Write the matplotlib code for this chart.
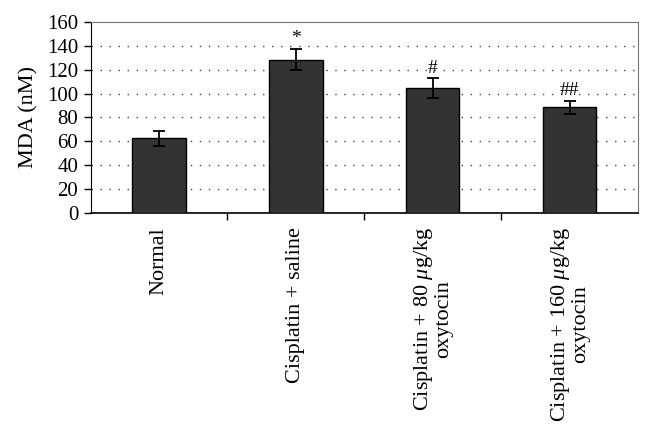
import matplotlib
matplotlib.use("Agg")
import matplotlib.pyplot as plt
import numpy as np

categories = ["Normal", "Cisplatin + saline",
              "Cisplatin + 80 $\\mu$g/kg\noxytocin",
              "Cisplatin + 160 $\\mu$g/kg\noxytocin"]
values = [62.5, 128.5, 104.5, 88.5]
errors = [6.5, 9.0, 8.5, 5.5]
marks = ["", "*", "#", "##"]
yticks = [0, 20, 40, 60, 80, 100, 120, 140, 160]

plt.rcParams['font.family'] = ['Liberation Serif', 'DejaVu Serif']
plt.rcParams['mathtext.fontset'] = 'custom'
plt.rcParams['mathtext.it'] = 'Liberation Serif:italic'
plt.rcParams['mathtext.rm'] = 'Liberation Serif'

fig = plt.figure(figsize=(6.52, 4.29), dpi=100)
ax = fig.add_axes([0.139, 0.5035, 0.8395, 0.4455])

x = np.arange(len(categories))
ax.bar(x, values, width=0.39, color='#333333', edgecolor='black', linewidth=1.0, zorder=3)
ax.errorbar(x, values, yerr=errors, fmt='none', ecolor='black', elinewidth=1.3,
            capsize=4, capthick=1.3, zorder=4)
for xi, v, e, m in zip(x, values, errors, marks):
    if m:
        ax.annotate(m, xy=(xi, v + e), xytext=(0, 1), textcoords='offset points',
                    ha='center', va='bottom', fontsize=14)

ax.set_xlim(-0.5, len(categories) - 0.5)
ax.set_ylim(0, 160)
ax.set_yticks(yticks)
ax.set_yticklabels([str(t) for t in yticks], fontsize=15)
for t in yticks[1:-1]:
    ax.axhline(t, color='#444444', linestyle=(0, (1, 5.5)), linewidth=1.0, zorder=1)

ax.set_xticks(np.arange(len(categories) - 1) + 0.5)
ax.set_xticklabels([])
ax.tick_params(axis='x', direction='out', length=5, width=1)
ax.tick_params(axis='y', direction='out', length=5, width=1, pad=4)
for xi, c in zip(x, categories):
    ax.annotate(c, xy=(xi, 0), xytext=(0, -10), textcoords='offset points',
                rotation=90, ha='center', va='top', fontsize=16,
                multialignment='center', linespacing=0.95, annotation_clip=False)

ax.set_ylabel("MDA (nM)", fontsize=16, labelpad=6)
for s in ['top', 'right']:
    ax.spines[s].set_color('#777777')
ax.spines['left'].set_color('black')
ax.spines['bottom'].set_color('black')
ax.spines['bottom'].set_linewidth(1.2)

fig.savefig("out.png", dpi=100)
